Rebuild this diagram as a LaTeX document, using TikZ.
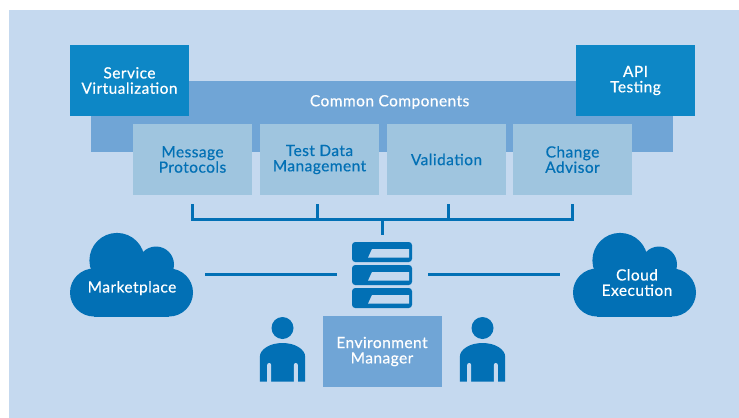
\documentclass[tikz,border=0pt]{standalone}
\usepackage{fontspec}
\setmainfont[FakeBold=0.5,LetterSpace=3]{Lato}
\usetikzlibrary{positioning, calc}
\definecolor{panelBg}{RGB}{197, 217, 239}
\definecolor{bandBg}{RGB}{112, 165, 214}
\definecolor{topBoxBg}{RGB}{13, 135, 198}
\definecolor{innerBg}{RGB}{159, 197, 223}
\definecolor{inkBlue}{RGB}{2, 112, 181}
\tikzstyle{line} = [line width=0.75mm, draw=inkBlue]
\tikzstyle{basic} = [rectangle, inner sep=0mm, outer sep=0mm, minimum width=29.75mm, minimum height=17.75mm, align=center, font=\fontsize{11}{10.9}\selectfont]
\tikzstyle{topstyle} = [fill=topBoxBg, text=white]
\tikzstyle{bandstyle} = [fill=bandBg, text=white]
\tikzstyle{innerstyle} = [fill=innerBg, text=inkBlue]
\tikzstyle{rack} = [rectangle, rounded corners=0.8mm, fill=inkBlue, minimum width=15mm, minimum height=5mm, inner sep=0mm, outer sep=0mm]
\tikzstyle{caption} = [inner sep=0mm, outer sep=0mm, align=center, text=white, font=\fontsize{11}{10.9}\selectfont]
\tikzset{
  cloudblob/.pic={
    \fill [inkBlue] (-9.5mm, -1.5mm) circle (6mm);
    \fill [inkBlue] (9.25mm, -1.5mm) circle (6mm);
    \fill [inkBlue] (-3.75mm, 6.5mm) circle (6.9mm);
    \fill [inkBlue] (6mm, 5.5mm) circle (4.5mm);
    \fill [inkBlue] (-9.5mm, -7.5mm) rectangle (9.25mm, 4.5mm);
  },
  person/.pic={
    \fill [inkBlue] (0mm, 5.875mm) circle (2.75mm);
    \fill [inkBlue] (-5.675mm, -7.55mm) -- (-5.675mm, -1.375mm) arc[start angle=180, end angle=0, x radius=5.675mm, y radius=3.5mm] -- (5.675mm, -7.55mm) -- cycle;
    \fill [panelBg] (-3.83mm, -7.6mm) -- (-3.83mm, -3.375mm) arc[start angle=180, end angle=0, radius=0.5mm] -- (-2.83mm, -7.6mm) -- cycle;
    \fill [panelBg] (2.83mm, -7.6mm) -- (2.83mm, -3.375mm) arc[start angle=180, end angle=0, radius=0.5mm] -- (3.83mm, -7.6mm) -- cycle;
  }
}
\begin{document}
\begin{tikzpicture}[node distance=0mm]
\useasboundingbox (0mm, 0mm) rectangle (184.75mm, -104.5mm);

\node (panel) [rectangle, fill=panelBg, inner sep=0mm, outer sep=0mm, minimum width=182.5mm, minimum height=102.125mm, anchor=north west] at(2.25mm, -2.375mm) {};

\node (common) [basic, bandstyle, minimum width=145.5mm, anchor=north west, xshift=20.5mm, yshift=-17.875mm] at(panel.north west) {};
\node (commonLabel) [caption, anchor=center, xshift=1.9mm, yshift=-5.25mm] at(common.north) {Common Components};
\node (service) [basic, topstyle, anchor=north west, xshift=-5.25mm, yshift=9mm] at(common.north west) {Service\\Virtualization};
\node (api) [basic, topstyle, anchor=north east, xshift=5.5mm, yshift=9mm] at(common.north east) {API\\Testing};

\node (msg) [basic, innerstyle, anchor=north west, xshift=10.5mm, yshift=-10.75mm] at(common.north west) {Message\\Protocols};
\node (tdm) [basic, innerstyle, anchor=north west, xshift=2mm] at(msg.north east) {Test Data\\Management};
\node (valid) [basic, innerstyle, anchor=north west, xshift=2mm] at(tdm.north east) {Validation};
\node (change) [basic, innerstyle, anchor=north west, xshift=1.75mm] at(valid.north east) {Change\\Advisor};

\node (rack0) [rack, anchor=north west, xshift=-6.75mm, yshift=-11.75mm] at(tdm.south east) {};
\node (rack1) [rack, anchor=north, yshift=-0.75mm] at(rack0.south) {};
\node (rack2) [rack, anchor=north, yshift=-0.75mm] at(rack1.south) {};
\foreach \r in {rack0, rack1, rack2} {
  \fill [panelBg] ($(\r.north east)+(-0.75mm, -1.75mm)$) -- ($(\r.south east)+(-0.75mm, 1.1mm)$) -- ($(\r.south west)+(4mm, 1.1mm)$) -- ($(\r.north west)+(5mm, -1.75mm)$) -- cycle;
}
\node (env) [basic, bandstyle, anchor=north, yshift=-2mm] at(rack2.south) {Environment\\Manager};

\coordinate [yshift=-2.25mm] (tick0) at(msg.south);
\coordinate [xshift=-0.6mm, yshift=-2.25mm] (tick1) at(tdm.south);
\coordinate [xshift=0.4mm, yshift=-2.25mm] (tick2) at(valid.south);
\coordinate [yshift=-2.25mm] (tick3) at(change.south);
\coordinate [yshift=-3.75mm] (bus0) at(tick0);
\coordinate [yshift=1.75mm] (stem) at(rack0.north);
\draw [line] (tick0) -- (bus0) -- (bus0 -| tick3) -- (tick3);
\draw [line] (tick1) -- (bus0 -| tick1);
\draw [line] (tick2) -- (bus0 -| tick2);
\draw [line] (bus0 -| stem) -- (stem);

\coordinate [xshift=-62.5mm, yshift=-2.875mm] (marketC) at(rack1.center);
\coordinate [xshift=63.25mm, yshift=-2.875mm] (cloudC) at(rack1.center);
\pic at (marketC) {cloudblob};
\pic at (cloudC) {cloudblob};
\node (market) [caption, yshift=-0.4mm] at(marketC) {Marketplace};
\node (cloudExec) [caption, xshift=0.5mm, yshift=1mm] at(cloudC) {Cloud\\Execution};

\coordinate [xshift=18.25mm, yshift=3mm] (marketLink) at(marketC);
\coordinate [xshift=-3.75mm] (rackLeft) at(rack1.west);
\coordinate [xshift=-18.75mm, yshift=3mm] (cloudLink) at(cloudC);
\coordinate [xshift=4mm] (rackRight) at(rack1.east);
\draw [line] (marketLink) -- (marketLink -| rackLeft);
\draw [line] (marketLink -| rackRight) -- (cloudLink);

\coordinate [xshift=-10mm] (userL) at(env.west);
\coordinate [xshift=10.25mm] (userR) at(env.east);
\pic at (userL) {person};
\pic at (userR) {person};

\end{tikzpicture}
\end{document}
